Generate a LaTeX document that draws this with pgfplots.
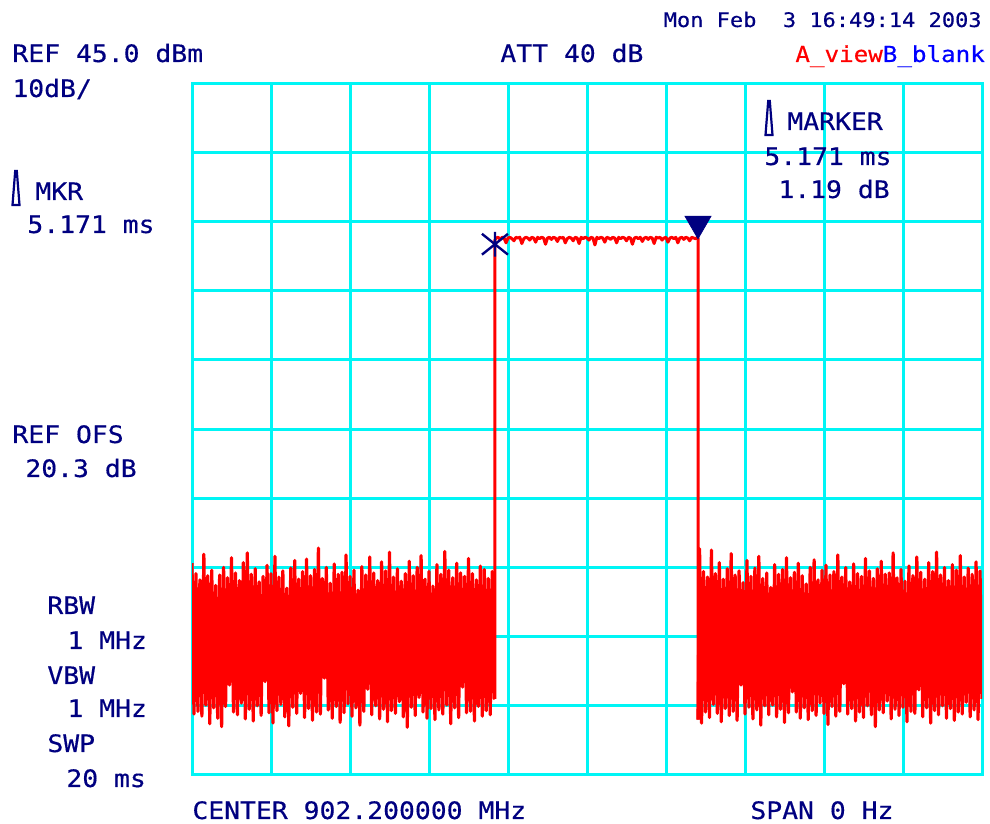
\documentclass[border=0pt]{standalone}
\usepackage{fontspec}
\setmonofont[FakeStretch=1.1,FakeBold=0.4]{DejaVu Sans Mono}
\usepackage{pgfplots}
\pgfplotsset{compat=1.18}
\definecolor{scrnavy}{RGB}{0,0,128}
\definecolor{gridcyan}{RGB}{0,245,245}
\definecolor{trace}{RGB}{255,0,0}
\definecolor{bblue}{RGB}{0,0,255}

% downward triangle with its tip at the data point
\pgfdeclareplotmark{dtri}{%
  \pgfpathmoveto{\pgfpointorigin}%
  \pgfpathlineto{\pgfpoint{-0.866\pgfplotmarksize}{1.5\pgfplotmarksize}}%
  \pgfpathlineto{\pgfpoint{0.866\pgfplotmarksize}{1.5\pgfplotmarksize}}%
  \pgfpathclose
  \pgfusepathqfillstroke}
% reference marker: a cross with a vertical bar
\pgfdeclareplotmark{refx}{%
  \pgfpathmoveto{\pgfpoint{-\pgfplotmarksize}{-0.8\pgfplotmarksize}}%
  \pgfpathlineto{\pgfpoint{\pgfplotmarksize}{0.8\pgfplotmarksize}}%
  \pgfpathmoveto{\pgfpoint{-\pgfplotmarksize}{0.8\pgfplotmarksize}}%
  \pgfpathlineto{\pgfpoint{\pgfplotmarksize}{-0.8\pgfplotmarksize}}%
  \pgfpathmoveto{\pgfpoint{0pt}{-0.95\pgfplotmarksize}}%
  \pgfpathlineto{\pgfpoint{0pt}{0.95\pgfplotmarksize}}%
  \pgfusepathqstroke}

\newcommand\mainf{\ttfamily\fontsize{12}{14}\selectfont}
\newcommand\datef{\ttfamily\fontsize{10}{12}\selectfont}
\newcommand\tracef{\ttfamily\fontsize{11}{13}\selectfont}

\begin{document}
\begin{tikzpicture}
\fill[white] (0,0) rectangle (495pt,412pt);
\path[use as bounding box] (0,0) rectangle (495pt,412pt);

\begin{axis}[
  at={(96pt,24.5pt)}, anchor=south west,
  scale only axis, width=395pt, height=346pt,
  xmin=0, xmax=20, ymin=-55, ymax=45,
  xtick={0,2,4,6,8,10,12,14,16,18,20},
  ytick={-55,-45,-35,-25,-15,-5,5,15,25,35,45},
  xticklabels={}, yticklabels={},
  major tick length=0pt,
  grid=major,
  major grid style={draw=gridcyan, line width=1.5pt},
  axis line style={draw=gridcyan, line width=1.5pt},
]
% trace A: time in ms, level in dBm -- noise before the burst
\addplot[trace, line width=1.6pt, line join=round, mark=none] coordinates {
(0.00,-24.4) (0.05,-46.2) (0.10,-25.9) (0.15,-45.8) (0.20,-26.8) (0.25,-46.5)
(0.30,-23.1) (0.35,-44.9) (0.40,-26.2) (0.45,-47.6) (0.50,-25.4) (0.55,-45.3)
(0.60,-27.6) (0.65,-46.8) (0.70,-26.1) (0.75,-48.0) (0.80,-25.0) (0.85,-45.1)
(0.90,-26.5) (0.95,-42.0) (1.00,-23.6) (1.05,-45.9) (1.10,-25.8) (1.15,-46.3)
(1.20,-26.9) (1.25,-44.6) (1.30,-24.3) (1.35,-46.9) (1.40,-22.9) (1.45,-45.5)
(1.50,-26.0) (1.55,-47.2) (1.60,-25.2) (1.65,-45.0) (1.70,-27.1) (1.75,-46.4)
(1.80,-26.3) (1.85,-41.5) (1.90,-24.7) (1.95,-46.0) (2.00,-25.9) (2.05,-47.5)
(2.10,-23.4) (2.15,-45.7) (2.20,-26.4) (2.25,-44.8) (2.30,-25.5) (2.35,-46.6)
(2.40,-28.0) (2.45,-47.9) (2.50,-25.1) (2.55,-45.2) (2.60,-24.0) (2.65,-46.1)
(2.70,-26.7) (2.75,-43.2) (2.80,-25.6) (2.85,-46.7) (2.90,-23.8) (2.95,-45.4)
(3.00,-26.2) (3.05,-47.1) (3.10,-25.3) (3.15,-45.9) (3.20,-22.2) (3.25,-46.2)
(3.30,-26.6) (3.35,-41.0) (3.40,-25.0) (3.45,-45.6) (3.50,-27.3) (3.55,-46.8)
(3.60,-24.5) (3.65,-45.1) (3.70,-26.0) (3.75,-47.4) (3.80,-25.7) (3.85,-46.0)
(3.90,-23.2) (3.95,-44.7) (4.00,-26.3) (4.05,-46.5) (4.10,-25.4) (4.15,-45.3)
(4.20,-28.3) (4.25,-47.8) (4.30,-24.9) (4.35,-45.8) (4.40,-26.1) (4.45,-42.6)
(4.50,-23.5) (4.55,-46.3) (4.60,-25.8) (4.65,-45.0) (4.70,-26.9) (4.75,-46.9)
(4.80,-24.2) (4.85,-45.5) (4.90,-25.5) (4.95,-47.3) (5.00,-22.8) (5.05,-45.7)
(5.10,-26.4) (5.15,-46.1) (5.20,-25.2) (5.25,-44.4) (5.30,-27.0) (5.35,-46.6)
(5.40,-25.9) (5.45,-48.1) (5.50,-24.1) (5.55,-45.2) (5.60,-26.2) (5.65,-46.4)
(5.70,-25.0) (5.75,-43.8) (5.80,-23.3) (5.85,-45.9) (5.90,-26.7) (5.95,-46.8)
(6.00,-25.6) (6.05,-45.4) (6.10,-27.7) (6.15,-47.0) (6.20,-24.6) (6.25,-45.6)
(6.30,-26.0) (6.35,-46.2) (6.40,-22.7) (6.45,-44.9) (6.50,-25.4) (6.55,-47.6)
(6.60,-26.5) (6.65,-45.3) (6.70,-24.4) (6.75,-46.7) (6.80,-25.8) (6.85,-42.3)
(6.90,-26.3) (6.95,-46.0) (7.00,-23.7) (7.05,-45.8) (7.10,-25.9) (7.15,-47.2)
(7.20,-26.8) (7.25,-45.1) (7.30,-24.8) (7.35,-46.5) (7.40,-25.3) (7.45,-45.7)
(7.50,-26.6) (7.55,-46.3) (7.60,-25.6) (7.65,-43.9) (7.67,-44.0)
};
% the burst
\addplot[trace, line width=1.5pt, line join=round, mark=none] coordinates {
(7.67,-44.0) (7.67,22.3)
(7.70,22.6) (7.75,22.7) (7.80,22.4) (7.85,22.7) (7.90,22.6) (7.95,21.9) (8.00,22.6) (8.05,22.7) (8.10,22.5) (8.15,22.2)
(8.20,22.7) (8.25,22.6) (8.30,22.7) (8.35,21.8) (8.40,22.5) (8.45,22.7) (8.50,22.6) (8.55,22.3) (8.60,22.7) (8.65,22.6)
(8.70,22.0) (8.75,22.7) (8.80,22.5) (8.85,22.7) (8.90,22.6) (8.95,21.7) (9.00,22.6) (9.05,22.7) (9.10,22.4) (9.15,22.7)
(9.20,22.6) (9.25,22.1) (9.30,22.7) (9.35,22.6) (9.40,22.7) (9.45,21.9) (9.50,22.5) (9.55,22.7) (9.60,22.6) (9.65,22.2)
(9.70,22.7) (9.75,22.6) (9.80,21.8) (9.85,22.7) (9.90,22.5) (9.95,22.7) (10.00,22.6) (10.05,22.3) (10.10,22.7) (10.15,22.6)
(10.20,21.6) (10.25,22.7) (10.30,22.5) (10.35,22.7) (10.40,22.6) (10.45,22.0) (10.50,22.7) (10.55,22.6) (10.60,22.4) (10.65,22.7)
(10.70,22.6) (10.75,21.9) (10.80,22.7) (10.85,22.5) (10.90,22.7) (10.95,22.6) (11.00,22.2) (11.05,22.7) (11.10,22.6) (11.15,21.7)
(11.20,22.6) (11.25,22.7) (11.30,22.5) (11.35,22.7) (11.40,22.1) (11.45,22.6) (11.50,22.7) (11.55,22.4) (11.60,22.7) (11.65,22.6)
(11.70,21.8) (11.75,22.7) (11.80,22.6) (11.85,22.7) (11.90,22.3) (11.95,22.6) (12.00,22.7) (12.05,22.0) (12.10,22.6) (12.15,22.7)
(12.20,22.5) (12.25,22.7) (12.30,21.9) (12.35,22.6) (12.40,22.7) (12.45,22.4) (12.50,22.7) (12.55,22.6) (12.60,22.2) (12.65,22.7)
(12.70,22.6) (12.75,22.5) (12.80,22.7)
(12.81,22.6) (12.81,-47.0)
};
% noise after the burst
\addplot[trace, line width=1.6pt, line join=round, mark=none] coordinates {
(12.81,-47.0)
(12.85,-22.3) (12.90,-47.5) (12.95,-25.6) (13.00,-45.9) (13.05,-26.4) (13.10,-46.7)
(13.15,-22.5) (13.20,-44.8) (13.25,-25.9) (13.30,-46.1) (13.35,-24.3) (13.40,-47.3)
(13.45,-26.7) (13.50,-45.4) (13.55,-25.2) (13.60,-46.4) (13.65,-23.0) (13.70,-45.8)
(13.75,-26.1) (13.80,-47.1) (13.85,-25.5) (13.90,-42.0) (13.95,-27.2) (14.00,-46.2)
(14.05,-24.0) (14.10,-45.2) (14.15,-26.3) (14.20,-46.9) (14.25,-25.1) (14.30,-45.6)
(14.35,-23.4) (14.40,-47.8) (14.45,-26.6) (14.50,-45.0) (14.55,-25.8) (14.60,-46.3)
(14.65,-27.9) (14.70,-44.9) (14.75,-24.6) (14.80,-46.6) (14.85,-26.0) (14.90,-45.5)
(14.95,-25.3) (15.00,-47.4) (15.05,-23.6) (15.10,-46.0) (15.15,-26.5) (15.20,-43.0)
(15.25,-25.7) (15.30,-45.9) (15.35,-24.4) (15.40,-46.8) (15.45,-26.2) (15.50,-45.3)
(15.55,-27.4) (15.60,-47.0) (15.65,-25.0) (15.70,-45.7) (15.75,-23.9) (15.80,-46.4)
(15.85,-26.8) (15.90,-44.6) (15.95,-25.4) (16.00,-46.1) (16.05,-24.7) (16.10,-47.7)
(16.15,-26.1) (16.20,-45.1) (16.25,-25.6) (16.30,-46.5) (16.35,-23.2) (16.40,-45.8)
(16.45,-26.4) (16.50,-41.8) (16.55,-25.0) (16.60,-46.2) (16.65,-27.1) (16.70,-45.4)
(16.75,-24.5) (16.80,-47.2) (16.85,-25.9) (16.90,-45.9) (16.95,-26.3) (17.00,-46.7)
(17.05,-23.7) (17.10,-45.0) (17.15,-25.5) (17.20,-46.3) (17.25,-26.6) (17.30,-48.0)
(17.35,-25.2) (17.40,-45.6) (17.45,-24.1) (17.50,-46.0) (17.55,-26.0) (17.60,-44.3)
(17.65,-25.8) (17.70,-46.9) (17.75,-22.9) (17.80,-45.5) (17.85,-26.5) (17.90,-46.4)
(17.95,-25.3) (18.00,-45.2) (18.05,-27.0) (18.10,-47.3) (18.15,-24.8) (18.20,-45.8)
(18.25,-26.2) (18.30,-46.1) (18.35,-23.5) (18.40,-42.7) (18.45,-25.7) (18.50,-46.6)
(18.55,-26.7) (18.60,-45.3) (18.65,-24.3) (18.70,-47.5) (18.75,-25.6) (18.80,-45.7)
(18.85,-22.8) (18.90,-46.3) (18.95,-26.1) (19.00,-45.0) (19.05,-25.0) (19.10,-46.8)
(19.15,-26.9) (19.20,-45.4) (19.25,-24.6) (19.30,-47.1) (19.35,-25.4) (19.40,-45.9)
(19.45,-23.3) (19.50,-46.2) (19.55,-26.4) (19.60,-44.5) (19.65,-25.1) (19.70,-46.6)
(19.75,-26.0) (19.80,-45.6) (19.85,-24.2) (19.90,-47.0) (19.95,-25.5) (20.00,-44.0)
};
% reference marker and delta marker
\addplot[only marks, mark=refx, mark size=6.5pt, scrnavy, line width=1.2pt] coordinates {(7.67,21.7)};
\addplot[only marks, mark=dtri, mark size=7.5pt, scrnavy, fill=scrnavy] coordinates {(12.81,22.5)};
\end{axis}

% annotations, placed in screen pixels (x right, y down)
\begin{scope}[shift={(0pt,412pt)}, x=0.5pt, y=-0.5pt,
  every node/.style={inner sep=0pt, anchor=base west, text=scrnavy, font=\mainf}]
\node at (12,62) {REF 45.0 dBm};
\node at (12,97) {10dB/};
\node at (500,62) {ATT 40 dB};
\node[anchor=base east, font=\datef] at (982,27) {Mon Feb\ \ 3 16:49:14 2003};
\node[font=\tracef] at (795,62) {{\color{trace}A\_view}{\color{bblue}B\_blank}};
\draw[scrnavy, line width=1.1pt, line join=miter] (12.5,205)--(19.5,205)--(16.8,171)--(15.2,171)--cycle;
\node at (35,200) {MKR};
\node at (27,233) {5.171 ms};
\draw[scrnavy, line width=1.1pt, line join=miter] (765.5,135)--(772.5,135)--(769.8,101)--(768.2,101)--cycle;
\node at (787,130) {MARKER};
\node at (764,165) {5.171 ms};
\node at (778,198) {1.19 dB};
\node at (12,443) {REF OFS};
\node at (25,477) {20.3 dB};
\node at (47,614) {RBW};
\node at (67,649) {1 MHz};
\node at (47,684) {VBW};
\node at (67,717) {1 MHz};
\node at (47,752) {SWP};
\node at (66,787) {20 ms};
\node at (192,819) {CENTER 902.200000 MHz};
\node at (750,819) {SPAN 0 Hz};
\end{scope}
\end{tikzpicture}
\end{document}
